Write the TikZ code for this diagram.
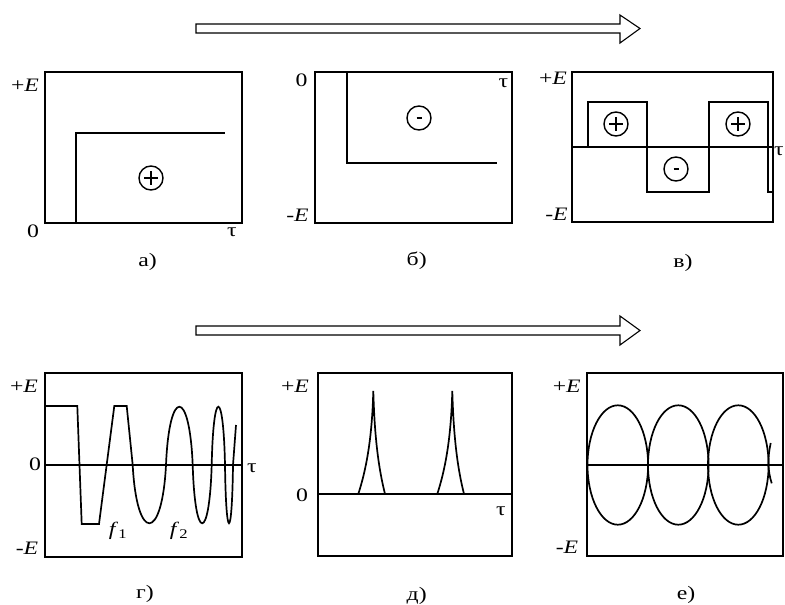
\documentclass[tikz,border=0pt]{standalone}
\usepackage{fontspec}
\setmainfont{Liberation Serif}[FakeStretch=1.25]
\begin{document}
\begin{tikzpicture}[x=1pt, y=-1pt,
  frame/.style={line width=2.3pt},
  curve/.style={line width=1.7pt},
  axis/.style={line width=1.5pt},
  sign/.style={circle, draw, line width=1.4pt, minimum size=24pt, inner sep=0pt},
  lbl/.style={font=\fontsize{19}{21}\selectfont, inner sep=0pt},
  bigarrow/.style={line width=1.1pt, fill=white}]
\useasboundingbox (0,0) rectangle (785,605);

% arrows
\draw[bigarrow] (196,24) -- (620,24) -- (620,15) -- (640,28.5) -- (620,43) -- (620,33) -- (196,33) -- cycle;
\draw[bigarrow] (196,326) -- (620,326) -- (620,316) -- (640,330.5) -- (620,345) -- (620,335) -- (196,335) -- cycle;

% a)
\draw[frame] (45,72) rectangle (242,223);
\draw[curve] (76,223) -- (76,133) -- (225,133);
\node[sign] (plusA) at (151,178) {};
\draw[curve] (plusA.center) ++(-7,0) -- ++(14,0) (plusA.center) ++(0,-7) -- ++(0,14);
\node[lbl] (eA) at (25,85) {+\textit{E}};
\node[lbl] (zeroA) at (33,231.5) {0};
\node[lbl] (tauA) at (232,232) {τ};
\node[lbl] (capA) at (147.5,261.5) {а)};

% b)
\draw[frame] (315,72) rectangle (512,223);
\draw[curve] (347,72) -- (347,163) -- (497,163);
\node[sign] (minusB) at (419,118) {};
\draw[line width=2.2pt] (minusB.center) ++(-2.5,0) -- ++(5,0);
\node[lbl] (zeroB) at (301.5,80) {0};
\node[lbl] (tauB) at (503.5,83.5) {τ};
\node[lbl] (eB) at (297.5,215) {-\textit{E}};
\node[lbl] (capB) at (416.7,261) {б)};

% v)
\draw[frame] (572,72) rectangle (773,222);
\draw[axis] (572,147) -- (773,147);
\draw[curve] (588,147) -- (588,102) -- (647,102) -- (647,192) -- (709,192) -- (709,102) -- (768,102) -- (768,192) -- (773,192);
\node[sign] (plusV1) at (616,124) {};
\node[sign] (plusV2) at (738,124) {};
\node[sign] (minusV) at (676,169) {};
\foreach \s in {plusV1, plusV2}
  \draw[curve] (\s.center) ++(-7,0) -- ++(14,0) (\s.center) ++(0,-7) -- ++(0,14);
\draw[line width=2.2pt] (minusV.center) ++(-2.5,0) -- ++(5,0);
\node[lbl] (eV) at (553,78) {+\textit{E}};
\node[lbl] (mV) at (556.5,214.5) {-\textit{E}};
\node[lbl] (tauV) at (779,151) {τ};
\node[lbl] (capV) at (683,263) {в)};

% g)
\draw[frame] (45,373) rectangle (242,557);
\draw[axis] (45,465) -- (242,465);
\draw[curve] (45,406) -- (77.3,406) -- (81.7,524) -- (99,524) -- (114.3,406) -- (126.7,406)
  -- (132.7,465) .. controls (136.7,542.7) and (162,542.7) .. (166,465)
  .. controls (169.2,387.3) and (189.5,387.3) .. (192.7,465)
  .. controls (195,542.7) and (209.4,542.7) .. (211.7,465)
  .. controls (213.3,387.3) and (223.4,387.3) .. (225,465)
  .. controls (226,542.7) and (232,542.7) .. (233,465) -- (236,425);
\node[lbl] (eG) at (24,386.7) {+\textit{E}};
\node[lbl] (zeroG) at (35,464) {0};
\node[lbl] (mG) at (27,548) {-\textit{E}};
\node[lbl] (tauG) at (252,468) {τ};
\node[lbl] (fOne) at (118,531) {\textit{f}\textsubscript{1}};
\node[lbl] (fTwo) at (179,531) {\textit{f}\textsubscript{2}};
\node[lbl] (capG) at (145,594) {г)};

% d)
\draw[frame] (318,373) rectangle (512,556);
\draw[axis] (318,494) -- (512,494);
\foreach \x in {0,79}
  \draw[curve, xshift=\x] (358.3,494) .. controls (366,470) and (372,440) .. (373.3,391)
    .. controls (374.6,440) and (379,470) .. (385,494);
\node[lbl] (eD) at (295,386) {+\textit{E}};
\node[lbl] (zeroD) at (302,495) {0};
\node[lbl] (tauD) at (501,511.7) {τ};
\node[lbl] (capD) at (416.7,596) {д)};

% e)
\draw[frame] (587,373) rectangle (783,556);
\draw[axis] (587,465) -- (783,465);
\foreach \c in {617.8, 678.3, 738.3}
  \draw[curve] (\c,465) ellipse [x radius=30.3, y radius=59.7];
\draw[curve] (770.7,443) .. controls (767.5,458) and (767.5,470) .. (771.7,483.3);
\node[lbl] (eE) at (566.7,386.7) {+\textit{E}};
\node[lbl] (mE) at (567,547.5) {-\textit{E}};
\node[lbl] (capE) at (686,595) {е)};
\end{tikzpicture}
\end{document}
